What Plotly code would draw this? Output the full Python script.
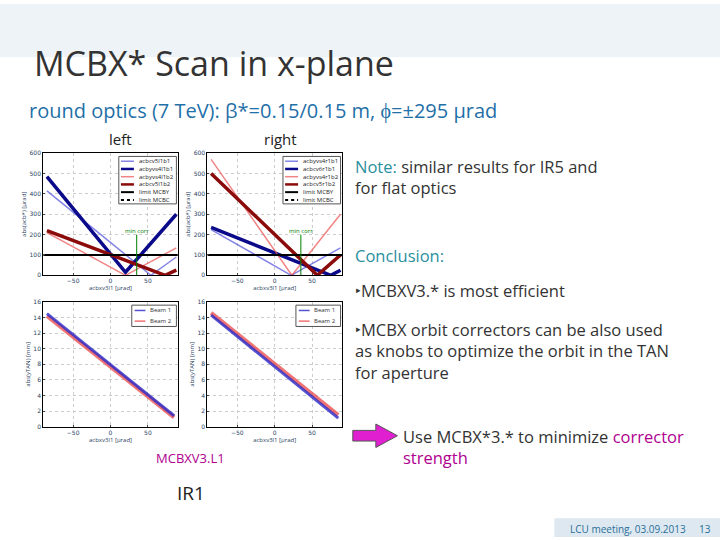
import plotly.graph_objects as go

tl_names = ["acbcv5l1b1", "acbyvs4l1b1", "acbyvs4l1b2", "acbcv5l1b2"]
tl_x = [[-85, 54, 88], [-85, 20, 88], [-85, 20, 88], [-85, 73, 88]]
tl_y = [[415, 0, 90], [485, 15, 300], [210, 0, 135], [220, 0, 25]]
tr_names = ["acbyvs4r1b1", "acbcv6r1b1", "acbyvs4r1b2", "acbcv5r1b2"]
tr_x = [[-85, 22, 88], [-85, 75, 88], [-85, 23, 88], [-85, 57, 88]]
tr_y = [[225, 0, 135], [235, 0, 25], [570, 0, 300], [500, 0, 100]]
limit_y = 100
min_corr_x = 35
bx = [-85, 85]
bl_b1 = [14.5, 1.4]
bl_b2 = [14.2, 1.2]
br_b1 = [14.3, 1.1]
br_b2 = [14.6, 1.5]

styles = [dict(color="rgba(80,80,220,0.7)", width=1.5),
          dict(color="#0a0a8a", width=3.5),
          dict(color="rgba(235,80,80,0.7)", width=1.5),
          dict(color="#8b0a0a", width=3.5)]

fig = go.Figure()
axes = [("x", "y"), ("x2", "y2"), ("x3", "y3"), ("x4", "y4")]
for names, xs, ys, (xa, ya) in [(tl_names, tl_x, tl_y, axes[0]), (tr_names, tr_x, tr_y, axes[1])]:
    for n, xx, yy, st in zip(names, xs, ys, styles):
        fig.add_trace(go.Scatter(x=xx, y=yy, mode="lines", line=st, name=n, xaxis=xa, yaxis=ya, showlegend=False))
    fig.add_trace(go.Scatter(x=[-90, 90], y=[limit_y, limit_y], mode="lines", line=dict(color="black", width=2),
                             xaxis=xa, yaxis=ya, showlegend=False))
    fig.add_trace(go.Scatter(x=[min_corr_x, min_corr_x], y=[0, 200], mode="lines", line=dict(color="green", width=1),
                             xaxis=xa, yaxis=ya, showlegend=False))
for b1, b2, (xa, ya) in [(bl_b1, bl_b2, axes[2]), (br_b1, br_b2, axes[3])]:
    fig.add_trace(go.Scatter(x=bx, y=b2, mode="lines", line=dict(color="rgba(235,80,80,0.8)", width=4), xaxis=xa, yaxis=ya, showlegend=False))
    fig.add_trace(go.Scatter(x=bx, y=b1, mode="lines", line=dict(color="rgba(40,40,200,0.8)", width=3), xaxis=xa, yaxis=ya, showlegend=False))

ax_common = dict(showline=True, linecolor="black", mirror=True, gridcolor="#ccc", griddash="dot",
                 tickfont=dict(size=6, family="DejaVu Sans"), zeroline=False, ticks="inside", ticklen=2)
dx1, dx2 = [0.06, 0.247], [0.288, 0.475]
dyt, dyb = [0.491, 0.72], [0.207, 0.441]
for i, (dx, dy) in enumerate([(dx1, dyt), (dx2, dyt), (dx1, dyb), (dx2, dyb)]):
    s = "" if i == 0 else str(i + 1)
    fig.layout["xaxis" + s] = dict(domain=dx, anchor="y" + s, range=[-90, 90], tickvals=[-50, 0, 50],
                                  ticktext=["−50", "0", "50"], title=dict(text="acbxv3l1 [µrad]", font=dict(size=6), standoff=0), **ax_common)
    if i < 2:
        fig.layout["yaxis" + s] = dict(domain=dy, anchor="x" + s, range=[0, 600], dtick=100,
                                      title=dict(text="abs(acb*) [µrad]", font=dict(size=6), standoff=2), **ax_common)
    else:
        fig.layout["yaxis" + s] = dict(domain=dy, anchor="x" + s, range=[0, 16], dtick=2,
                                      title=dict(text="abs(yTAN) [mm]", font=dict(size=6), standoff=2), **ax_common)

ann = []
def T(x, y, t, size=16, color="#333", anchor="left", xref="paper", yref="paper"):
    ann.append(dict(x=x, y=y, xref=xref, yref=yref, text=t, showarrow=False, xanchor=anchor, yanchor="middle",
                    font=dict(size=size, color=color, family="Open Sans")))
def M(x, y, t, size=16.5):
    ann.append(dict(x=x, y=y, xref="paper", yref="paper", showarrow=False, xanchor="left", yanchor="middle", align="left",
                    text=t, font=dict(size=size, color="#333", family="Open Sans")))

T(0.045, 1 - 60 / 540, "MCBX* Scan in x-plane", 34, "#333")
T(0.038, 1 - 108 / 540, "round optics (7 TeV): β*=0.15/0.15 m, ϕ=±295 µrad", 20, "#1f6fa8")
T(0.167, 1 - 137 / 540, "left", 15, "#222", "center")
T(0.39, 1 - 137 / 540, "right", 15, "#222", "center")
M(0.49, 1 - 175 / 540, "<span style='color:#2a8fa0'>Note:</span> similar results for IR5 and<br>for flat optics")
T(0.49, 1 - 255 / 540, "Conclusion:", 16.5, "#2a8fa0")
T(0.49, 1 - 290 / 540, "‣MCBXV3.* is most efficient", 16.5, "#333")
M(0.49, 1 - 352 / 540, "‣MCBX orbit correctors can be also used<br>as knobs to optimize the orbit in the TAN<br>for aperture")
M(0.557, 1 - 449 / 540, "Use MCBX*3.* to minimize <span style='color:#b0008f'>corrector</span><br><span style='color:#b0008f'>strength</span>")
T(0.265, 1 - 460 / 540, "MCBXV3.L1", 13, "#b0008f", "center")
T(0.265, 1 - 495 / 540, "IR1", 19, "#222", "center")
T(0.955, 1 - 532 / 540, "LCU meeting, 03.09.2013", 10, "#2a6f9a", "right")
T(0.99, 1 - 532 / 540, "13", 10, "#2a6f9a", "right")

shapes = [
    dict(type="rect", xref="paper", yref="paper", x0=0, x1=1, y0=0.9, y1=1, fillcolor="#eef3f7", line_width=0, layer="below"),
    dict(type="rect", xref="paper", yref="paper", x0=0.77, x1=1, y0=0, y1=0.035, fillcolor="#dde8f0", line_width=0, layer="below"),
    dict(type="path", xref="paper", yref="paper",
         path="M 0.49 0.2 L 0.522 0.2 L 0.522 0.212 L 0.552 0.19 L 0.522 0.168 L 0.522 0.18 L 0.49 0.18 Z",
         fillcolor="#e020d0", line=dict(color="#555", width=1)),
]
for (x0, x1, y0, y1) in [(0.165, 0.245, 0.625, 0.714), (0.393, 0.473, 0.625, 0.714), (0.183, 0.245, 0.395, 0.435), (0.411, 0.473, 0.395, 0.435)]:
    shapes.append(dict(type="rect", xref="paper", yref="paper", x0=x0, x1=x1, y0=y0, y1=y1, fillcolor="white", line=dict(color="#555", width=1)))

leg_styles = styles + [dict(color="black", width=2), dict(color="black", width=2, dash="dot")]
for x0, names in [(0.168, tl_names), (0.396, tr_names)]:
    for k, n in enumerate(names + ["limit MCBY", "limit MCBC"]):
        yy = 0.705 - k * 0.0145
        T(x0 + 0.022, yy, n, 6, "#222")
        shapes.append(dict(type="line", xref="paper", yref="paper", x0=x0, x1=x0 + 0.018, y0=yy, y1=yy,
                           line=dict(leg_styles[k], width=min(leg_styles[k]["width"], 2.5))))
for x0 in [0.187, 0.415]:
    for k, (n, c) in enumerate([("Beam 1", "rgba(40,40,200,0.8)"), ("Beam 2", "rgba(235,80,80,0.8)")]):
        yy = 0.425 - k * 0.02
        T(x0 + 0.019, yy, n, 6)
        shapes.append(dict(type="line", xref="paper", yref="paper", x0=x0, x1=x0 + 0.015, y0=yy, y1=yy, line=dict(color=c, width=1.5)))
T(min_corr_x, 220, "min corr", 6, "green", "center", xref="x", yref="y")
T(min_corr_x, 220, "min corr", 6, "green", "center", xref="x2", yref="y2")

fig.update_layout(annotations=ann, shapes=shapes, width=720, height=540, margin=dict(l=0, r=0, t=0, b=0),
                  paper_bgcolor="white", plot_bgcolor="white")
fig.write_html("out.html", config={"displayModeBar": False})
with open("out.html") as f:
    html = f.read()
html = html.replace("<head>", "<head><style>html,body{margin:0;padding:0;overflow:hidden}</style>", 1)
with open("out.html", "w") as f:
    f.write(html)
